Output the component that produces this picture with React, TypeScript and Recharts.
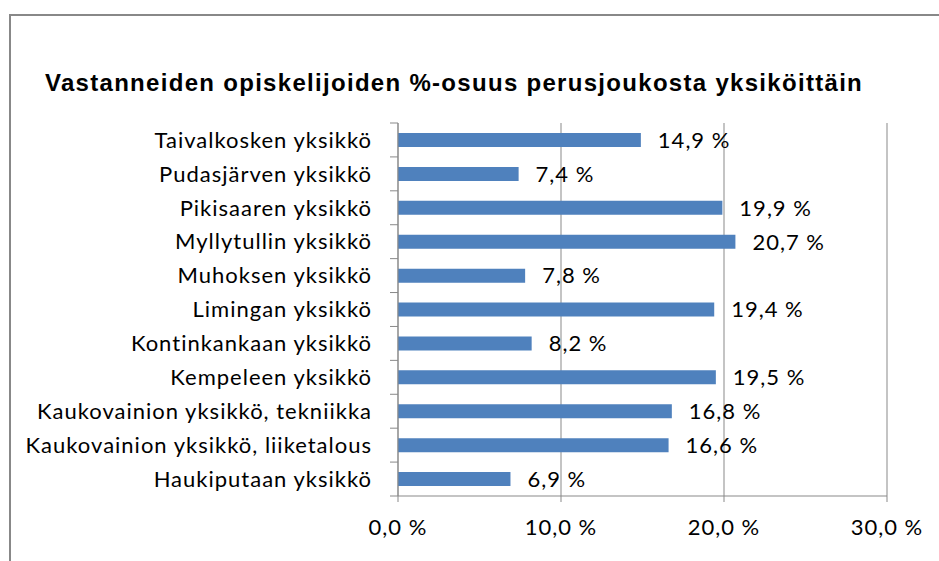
import React from 'react';
import { BarChart, Bar, XAxis, YAxis, CartesianGrid, LabelList } from 'recharts';

const categories = [
  'Taivalkosken yksikkö',
  'Pudasjärven yksikkö',
  'Pikisaaren yksikkö',
  'Myllytullin yksikkö',
  'Muhoksen yksikkö',
  'Limingan yksikkö',
  'Kontinkankaan yksikkö',
  'Kempeleen yksikkö',
  'Kaukovainion yksikkö, tekniikka',
  'Kaukovainion yksikkö, liiketalous',
  'Haukiputaan yksikkö',
];
const shares = [14.9, 7.4, 19.9, 20.7, 7.8, 19.4, 8.2, 19.5, 16.8, 16.6, 6.9];
const xTicks = [0, 10, 20, 30];

const TITLE = 'Vastanneiden opiskelijoiden %-osuus perusjoukosta yksiköittäin';

const data = categories.map((name, i) => ({ name, value: shares[i] }));

const W = 939;
const H = 561;
const X_AXIS_H = 30;
const MARGIN = { top: 123, right: 52, bottom: 65 - X_AXIS_H, left: 0 };
const BAND = (H - 123 - 65) / categories.length;
const GRID = '#898989';
const LABEL_FONT = 'Lato, "Open Sans", sans-serif';
const LABEL_STYLE = { fill: '#000', fontSize: 22, fontFamily: LABEL_FONT, letterSpacing: 1 };

const pct = (v: number) => `${v.toFixed(1).replace('.', ',')} %`;

const CategoryTick = (props: any) => {
  const { x, y, payload, index } = props;
  const axisX = 398;
  return (
    <g>
      <line x1={axisX - 8} x2={axisX} y1={y - BAND / 2} y2={y - BAND / 2} stroke={GRID} />
      {index === categories.length - 1 ? (
        <line x1={axisX - 8} x2={axisX} y1={y + BAND / 2} y2={y + BAND / 2} stroke={GRID} />
      ) : null}
      <text x={x} y={y} dy="0.355em" textAnchor="end" style={LABEL_STYLE}>
        {payload.value}
      </text>
    </g>
  );
};

export default function App() {
  return (
    <div
      style={{
        position: 'absolute',
        left: 0,
        top: 0,
        width: W,
        height: H,
        overflow: 'hidden',
        background: '#fff',
      }}
    >
      <div
        style={{
          position: 'absolute',
          left: 9,
          top: 14,
          width: W + 20,
          height: H + 20,
          border: '2px solid #888',
        }}
      />
      <div
        style={{
          position: 'absolute',
          left: 0,
          top: 69,
          width: 908,
          textAlign: 'center',
          fontFamily: '"Liberation Sans", Arial, sans-serif',
          fontWeight: 'bold',
          fontSize: 24,
          letterSpacing: 1.3,
          lineHeight: '27px',
          color: '#000',
        }}
      >
        {TITLE}
      </div>
      <div style={{ position: 'absolute', left: 0, top: 0 }}>
        <BarChart width={W} height={H} data={data} layout="vertical" margin={MARGIN}>
          <CartesianGrid horizontal={false} vertical stroke={GRID} />
          <XAxis
            type="number"
            domain={[0, 30]}
            ticks={xTicks}
            tickFormatter={pct}
            height={X_AXIS_H}
            stroke={GRID}
            tickSize={6}
            tickMargin={17}
            tick={LABEL_STYLE}
          />
          <YAxis
            type="category"
            dataKey="name"
            width={398}
            stroke={GRID}
            tickLine={false}
            tickSize={0}
            tickMargin={26}
            interval={0}
            tick={<CategoryTick />}
          />
          <Bar dataKey="value" fill="#4F81BD" barSize={14} isAnimationActive={false}>
            <LabelList
              dataKey="value"
              position="right"
              offset={17}
              formatter={(v: any) => pct(Number(v))}
              style={LABEL_STYLE}
            />
          </Bar>
        </BarChart>
      </div>
    </div>
  );
}
